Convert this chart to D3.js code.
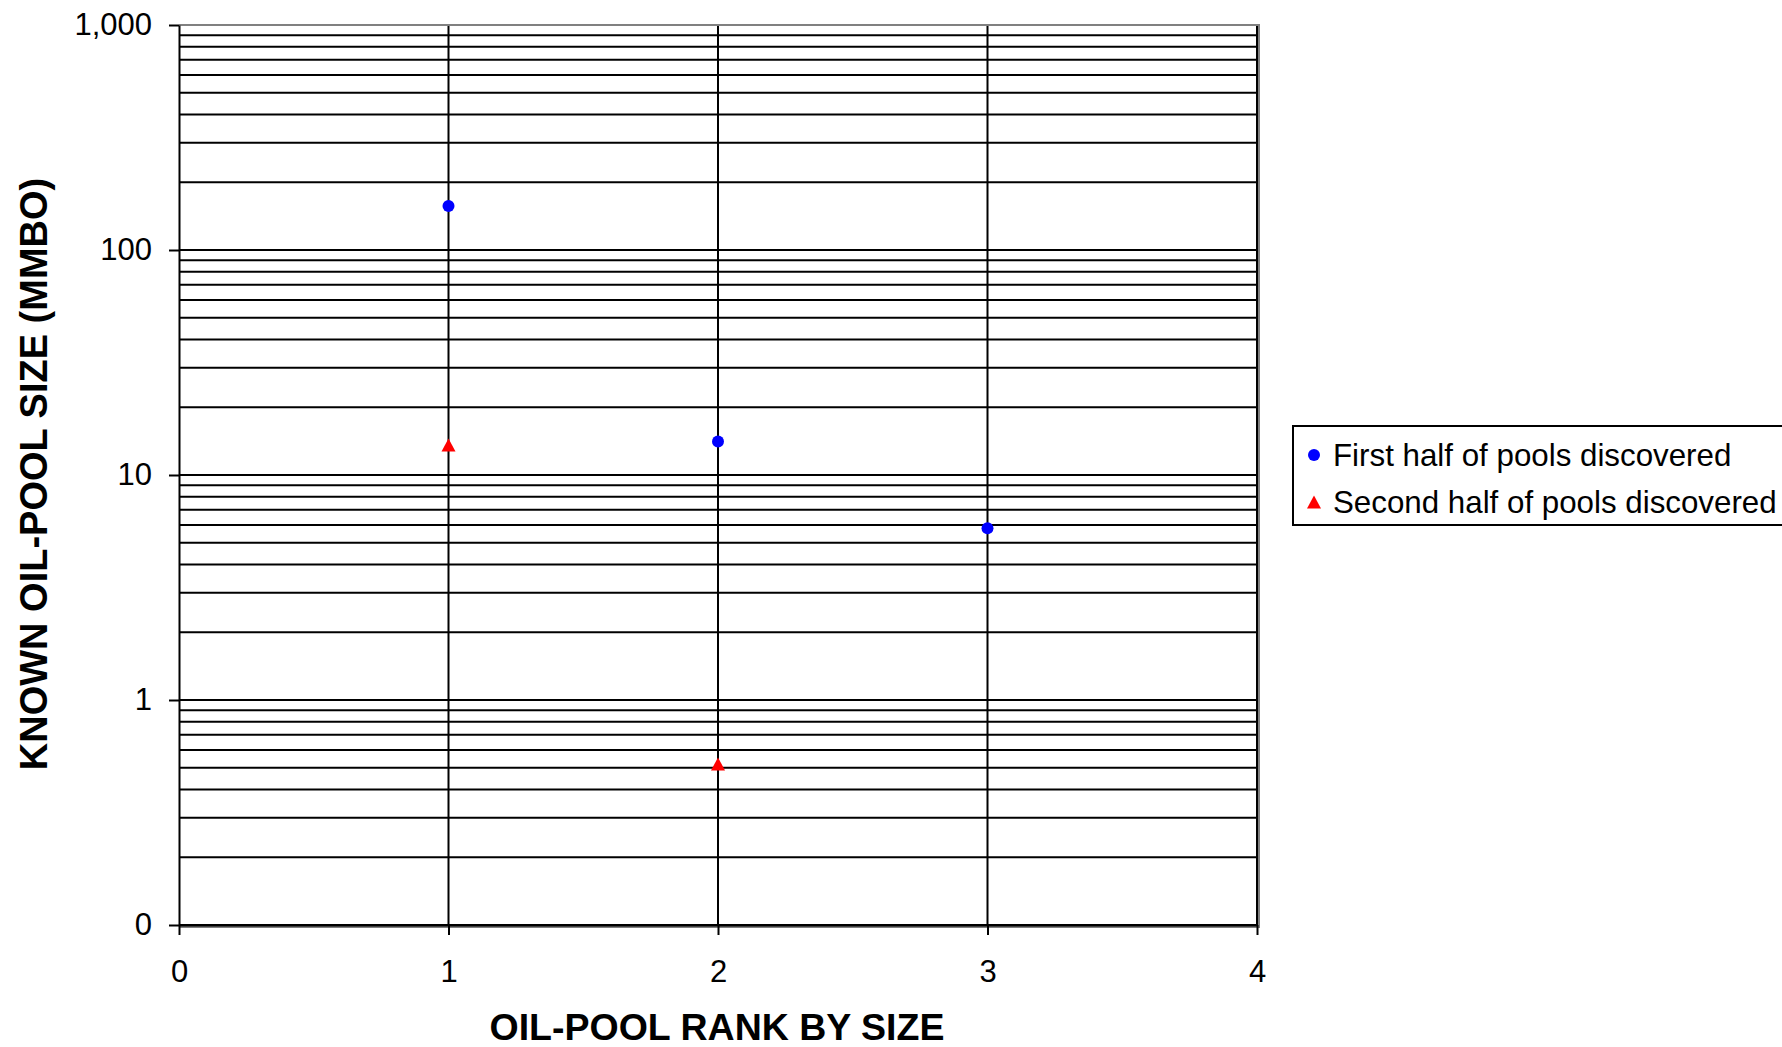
<!DOCTYPE html>
<html>
<head>
<meta charset="utf-8">
<script src="https://cdn.jsdelivr.net/npm/d3@7"></script>
<style>
  html, body { margin: 0; padding: 0; background: #fff; }
  svg { display: block; }
  text { font-family: "Liberation Sans", Arial, Helvetica, sans-serif; fill: #000; }
</style>
</head>
<body>
<script>
// ---- data ----
const firstRanks = [1, 2, 3];
const firstHalf = [157, 14.1, 5.8];
const secondRanks = [1, 2];
const secondHalf = [13.6, 0.52];
const xTicks = [0, 1, 2, 3, 4];
const yTicks = [0.1, 1, 10, 100, 1000];
const yTickLabels = ["0", "1", "10", "100", "1,000"];
const seriesNames = ["First half of pools discovered", "Second half of pools discovered"];
const xTitle = "OIL-POOL RANK BY SIZE";
const yTitle = "KNOWN OIL-POOL SIZE (MMBO)";

// ---- layout ----
const W = 1782, H = 1047;
const L = 179, R = 1257, T = 25, B = 925;

const svg = d3.select("body").append("svg").attr("width", W).attr("height", H);

const x = d3.scaleLinear().domain([0, 4]).range([L, R]);
const y = d3.scaleLog().domain([0.1, 1000]).range([B, T]);

// horizontal gridlines (major + minor)
const gridVals = [];
for (let d = -1; d <= 2; d++) {
  for (let k = 1; k <= 9; k++) gridVals.push(k * Math.pow(10, d));
}
gridVals.push(1000);
svg.append("g").selectAll("line").data(gridVals).join("line")
  .attr("x1", L).attr("x2", R)
  .attr("y1", d => y(d)).attr("y2", d => y(d))
  .attr("stroke", "#000").attr("stroke-width", 2);

// vertical gridlines
svg.append("g").selectAll("line").data(xTicks.filter(d => d > 0)).join("line")
  .attr("x1", d => x(d)).attr("x2", d => x(d))
  .attr("y1", T).attr("y2", B)
  .attr("stroke", "#000").attr("stroke-width", 2);

// gray plot border (top, right, bottom shadow)
svg.append("line").attr("x1", L).attr("x2", R + 3).attr("y1", T).attr("y2", T)
  .attr("stroke", "#808080").attr("stroke-width", 2);
svg.append("line").attr("x1", R + 2).attr("x2", R + 2).attr("y1", T).attr("y2", B + 2)
  .attr("stroke", "#808080").attr("stroke-width", 2);
svg.append("line").attr("x1", L).attr("x2", R + 3).attr("y1", B + 2).attr("y2", B + 2)
  .attr("stroke", "#808080").attr("stroke-width", 2);

// axes
const xAxis = d3.axisBottom(x).tickValues(xTicks).tickSize(10).tickSizeOuter(0).tickPadding(25)
  .tickFormat(d3.format("d"));
const gx = svg.append("g").attr("transform", `translate(0,${B})`).call(xAxis);
gx.select(".domain").attr("stroke", "#000").attr("stroke-width", 2);
gx.selectAll(".tick line").attr("stroke", "#000").attr("stroke-width", 2);
gx.selectAll(".tick text").attr("font-size", 31).attr("font-family", "Liberation Sans, Arial, sans-serif");

const yAxis = d3.axisLeft(y).tickValues(yTicks).tickSize(10).tickSizeOuter(0).tickPadding(17)
  .tickFormat((d, i) => yTickLabels[i]);
const gy = svg.append("g").attr("transform", `translate(${L},0)`).call(yAxis);
gy.select(".domain").attr("stroke", "#000").attr("stroke-width", 2);
gy.selectAll(".tick line").attr("stroke", "#000").attr("stroke-width", 2);
gy.selectAll(".tick text").attr("font-size", 31).attr("font-family", "Liberation Sans, Arial, sans-serif");

// axis titles
svg.append("text").attr("x", 717).attr("y", 1027).attr("text-anchor", "middle")
  .attr("dominant-baseline", "central")
  .attr("font-size", 37.5).attr("font-weight", "bold").text(xTitle);
svg.append("text").attr("transform", "translate(34,474) rotate(-90)").attr("text-anchor", "middle")
  .attr("dominant-baseline", "central")
  .attr("font-size", 38).attr("font-weight", "bold").text(yTitle);

// markers
const triPath = "M0,-6.5L7,6.5L-7,6.5Z";
svg.append("g").selectAll("circle").data(firstRanks.map((r, i) => [r, firstHalf[i]])).join("circle")
  .attr("cx", d => x(d[0])).attr("cy", d => y(d[1])).attr("r", 6).attr("fill", "#0000ff");
svg.append("g").selectAll("path").data(secondRanks.map((r, i) => [r, secondHalf[i]])).join("path")
  .attr("d", triPath)
  .attr("transform", d => `translate(${x(d[0])},${y(d[1])})`).attr("fill", "#ff0000");

// legend
const lg = svg.append("g");
lg.append("rect").attr("x", 1293).attr("y", 426).attr("width", 520).attr("height", 99)
  .attr("fill", "#fff").attr("stroke", "#000").attr("stroke-width", 2);
lg.append("circle").attr("cx", 1314).attr("cy", 455).attr("r", 6).attr("fill", "#0000ff");
lg.append("path").attr("d", triPath).attr("transform", "translate(1314,502)").attr("fill", "#ff0000");
lg.append("text").attr("x", 1333).attr("y", 455).attr("dominant-baseline", "central")
  .attr("font-size", 31.3).text(seriesNames[0]);
lg.append("text").attr("x", 1333).attr("y", 502).attr("dominant-baseline", "central")
  .attr("font-size", 31.3).text(seriesNames[1]);
</script>
</body>
</html>
